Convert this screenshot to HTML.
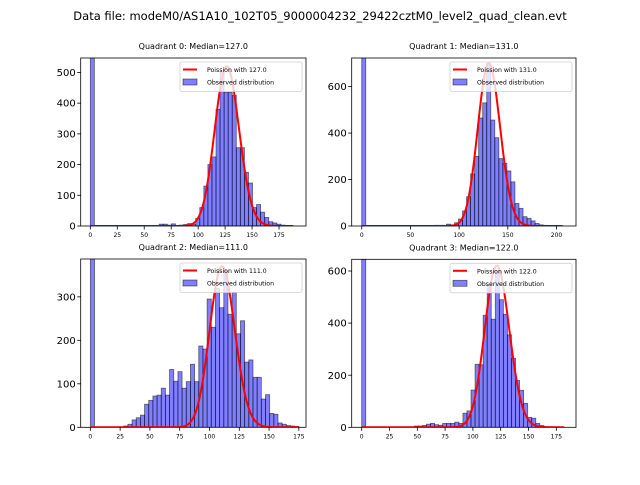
<!DOCTYPE html>
<html><head><meta charset="utf-8"><style>
body{margin:0;background:#fff;}
svg text{font-family:"DejaVu Sans","Liberation Sans",sans-serif;}
</style></head><body>
<svg id="fig" width="640" height="480" xmlns="http://www.w3.org/2000/svg">
<rect width="640" height="480" fill="#fff"/>
<text x="320" y="20" font-size="11.5" text-anchor="middle">Data file: modeM0/AS1A10_102T05_9000004232_29422cztM0_level2_quad_clean.evt</text>
</svg>
<script>
const medians = [127.0, 131.0, 111.0, 122.0];
const binWidths = [3.76, 4.14, 3.5, 3.64];
const curvePeaks = [520, 700, 370, 620];
const counts0 = [2000,0,0,0,0,0,0,0,0,0,0,0,0,0,0,0,0,6,6,3,7,2,3,5,8,5,25,60,130,200,225,380,500,435,435,425,255,255,175,140,60,70,45,28,14,10,6,3,2,1];
const counts1 = [2000,0,0,0,0,0,0,0,0,0,0,0,0,0,0,0,0,0,3,3,3,8,5,14,30,65,126,224,300,465,530,700,456,380,290,270,237,190,97,76,40,33,22,11,5,3,2,1,1,1];
const counts2 = [2000,0,0,0,0,0,0,0,3,7,17,22,28,53,62,72,74,90,74,133,106,128,90,105,145,105,187,180,295,230,320,275,360,260,310,215,245,150,155,115,115,65,75,32,30,10,7,4,3,2];
const counts3 = [2000,0,0,0,0,0,0,0,0,0,0,0,0,5,5,7,12,15,10,8,15,15,15,20,15,54,63,143,242,240,430,545,415,600,490,434,355,265,180,142,92,38,35,15,7,3,2,2,1,1];
const yTicks0 = [0,100,200,300,400,500];
const yTicks1 = [0,200,400,600];
const yTicks2 = [0,100,200,300];
const yTicks3 = [0,200,400,600];
const xTicks0 = [0,25,50,75,100,125,150,175];
const xTicks1 = [0,50,100,150,200];
const xTicks2 = [0,25,50,75,100,125,150,175];
const xTicks3 = [0,25,50,75,100,125,150,175];

const NS="http://www.w3.org/2000/svg";
const svg=document.getElementById('fig');
function mk(tag,attrs,parent){const e=document.createElementNS(NS,tag);for(const k in attrs)e.setAttribute(k,attrs[k]);(parent||svg).appendChild(e);return e;}
function lgamma(x){
  if(x<7){let p=1;while(x<7){p*=x;x+=1;}return lgamma(x)-Math.log(p);}
  return (x-0.5)*Math.log(x)-x+0.5*Math.log(2*Math.PI)+1/(12*x)-1/(360*x*x*x);
}
const panels=[
 {l:80.7,r:306,t:58,b:226,xmin:-8.9,xmax:200,ymax:547,counts:counts0,yt:yTicks0,xt:xTicks0},
 {l:351.7,r:576,t:58,b:226,xmin:-10.3,xmax:220,ymax:723,counts:counts1,yt:yTicks1,xt:xTicks1},
 {l:80.7,r:306,t:259,b:427.3,xmin:-8.1,xmax:181,ymax:387,counts:counts2,yt:yTicks2,xt:xTicks2},
 {l:351.7,r:576,t:259.3,b:427.3,xmin:-9,xmax:192.7,ymax:645,counts:counts3,yt:yTicks3,xt:xTicks3}
];
panels.forEach((p,i)=>{
  const g=mk('g',{});
  
  
  const xs=v=>p.l+(v-p.xmin)/(p.xmax-p.xmin)*(p.r-p.l);
  const ys=v=>p.b-v/p.ymax*(p.b-p.t);
  const cid='clip'+i;
  const cp=mk('clipPath',{id:cid},g);mk('rect',{x:p.l,y:p.t,width:p.r-p.l,height:p.b-p.t},cp);
  const plot=mk('g',{'clip-path':'url(#'+cid+')'},g);
  const bw=binWidths[i];
  p.counts.forEach((c,k)=>{
    if(c<=0)return;
    const x0=xs(k*bw),x1=xs((k+1)*bw);
    const r=mk('rect',{x:x0,y:ys(c),width:x1-x0,height:ys(0)-ys(c),fill:'rgba(0,0,255,0.5)',stroke:'rgba(0,0,0,0.55)','stroke-width':0.8},plot);
    
    
  });
  const lam=medians[i];
  const kmax=p.counts.length*bw;
  const km=Math.floor(lam);
  const pm=Math.exp(km*Math.log(lam)-lam-lgamma(km+1));
  let d='';
  for(let k=0;k<=kmax;k++){
    const v=k===0?Math.exp(-lam):Math.exp(k*Math.log(lam)-lam-lgamma(k+1));
    const y=curvePeaks[i]*v/pm;
    d+=(k===0?'M':'L')+xs(k).toFixed(2)+','+ys(y).toFixed(2);
  }
  const pl=mk('path',{d:d,fill:'none',stroke:'#ff0000','stroke-width':2},plot);
  
  
  mk('rect',{x:p.l,y:p.t,width:p.r-p.l,height:p.b-p.t,fill:'none',stroke:'#000','stroke-width':0.8},g);
  p.yt.forEach(v=>{
    const y=ys(v);
    mk('line',{x1:p.l-3.5,x2:p.l,y1:y,y2:y,stroke:'#000','stroke-width':0.8},g);
    const t=mk('text',{x:p.l-5,y:y+3.6,'font-size':10,'text-anchor':'end'},g);
    t.textContent=v;
    
    
  });
  p.xt.forEach(v=>{
    const x=xs(v);
    mk('line',{x1:x,x2:x,y1:p.b,y2:p.b+3.5,stroke:'#000','stroke-width':0.8},g);
    const t=mk('text',{x:x,y:p.b+11,'font-size':6,'text-anchor':'middle'},g);
    t.textContent=v;
    
    
  });
  const tt=mk('text',{x:(p.l+p.r)/2,y:p.t-9,'font-size':8,'text-anchor':'middle'},g);
  tt.textContent='Quadrant '+i+': Median='+lam.toFixed(1);
  
  
  const lg=mk('g',{},g);
  
  
  const lx=p.r-126, ly=p.t+4;
  mk('rect',{x:lx,y:ly,width:122,height:29.5,rx:2,fill:'rgba(255,255,255,0.8)',stroke:'#d0d0d0','stroke-width':0.8},lg);
  mk('line',{x1:lx+3,x2:lx+17,y1:ly+7.5,y2:ly+7.5,stroke:'#ff0000','stroke-width':2},lg);
  const t1=mk('text',{x:lx+27,y:ly+10,'font-size':6.2},lg);t1.textContent='Poission with '+lam.toFixed(1);
  mk('rect',{x:lx+3,y:ly+17,width:14,height:6,fill:'rgba(0,0,255,0.5)',stroke:'rgba(0,0,0,0.55)','stroke-width':0.8},lg);
  const t2=mk('text',{x:lx+27,y:ly+22.5,'font-size':6.2},lg);t2.textContent='Observed distribution';
});
</script>
</body></html>
